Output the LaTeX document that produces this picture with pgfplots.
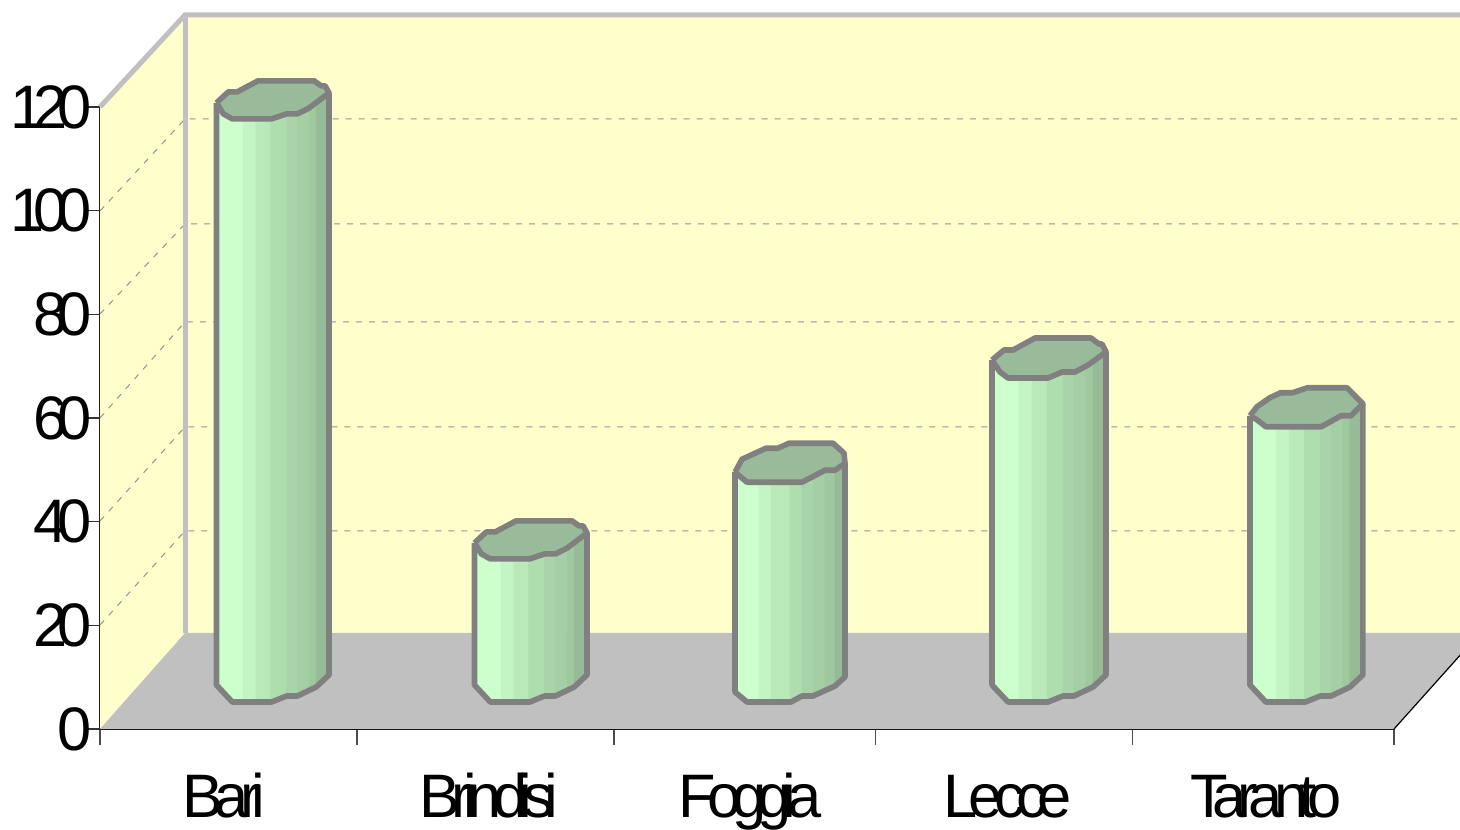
\documentclass[border=0pt]{standalone}
\usepackage{pgfplots}
\usepackage{pgfplotstable}
\usepackage{fontspec}
\pgfplotsset{compat=1.18}
\setmainfont{Liberation Sans}[LetterSpace=-14.5]
\newfontfamily\ynum{Liberation Sans}[LetterSpace=-17]
\definecolor{wall}{HTML}{FFFFCC}
\definecolor{floorc}{HTML}{C0C0C0}
\definecolor{edge}{HTML}{808080}
\definecolor{topc}{HTML}{99BB99}
\definecolor{cz}{HTML}{C3F2C3}
\definecolor{ca}{HTML}{CCFFCC}
\definecolor{cb}{HTML}{C3F4C3}
\definecolor{cc}{HTML}{B9E9B9}
\definecolor{cd}{HTML}{AEDEAE}
\definecolor{ce}{HTML}{A9D4A9}
\definecolor{cf}{HTML}{A4CEA4}
\definecolor{cg}{HTML}{9FC89F}
\definecolor{ch}{HTML}{97BB97}
\pgfplotsset{
  table/px/.style={x expr=(\thisrow{a}-100)/258.8,y expr=(729-\thisrow{b})/5.183},
  table/barxy/.style={x expr=(\curL+\curS*\thisrow{a}-100)/258.8,y expr=(27+\thisrow{b})/5.183+\thisrow{t}*\curV},
  table/segxy/.style={x expr=(\curL+\curS*\thisrow{a}-100)/258.8,y expr=(27+\thisrow{b}-\thisrow{t}*\curT)/5.183+\thisrow{t}*\curV}
}
% outlines of a column, pixels relative to its front-left corner; t=1: moves with the value
\pgfplotstableread{
a b t
0 16 1
12 27 1
21 27 1
42 38 1
99 38 1
106 33 1
110 33 1
114 26 1
94 11 1
82 5 1
71 5 1
56 0 1
16 0 1
7 5 1
0 16 1
}\topface
\pgfplotstableread{
a b t
0 16 1
0 17 0
16 0 0
56 0 0
71 6 0
82 6 0
101 15 0
114 27 0
114 26 1
}\body
\pgfplotstableread{
a b t
0 18 1
12 28 1
21 28 1
43 40 1
99 40 1
107 34 1
110 34 1
114 26 1
96 13 1
83 6 1
70 6 1
56 0 1
16 0 1
8 6 1
0 18 1
}\topLecce
\pgfplotstableread{
a b t
0 18 1
0 17 0
16 0 0
56 0 0
71 6 0
82 6 0
101 15 0
114 27 0
114 26 1
}\bodyLecce
\pgfplotstableread{
a b t
0 10 1
7 23 1
31 34 1
43 34 1
54 39 1
98 39 1
109 29 1
110 19 1
100 12 1
90 12 1
67 0 1
12 0 1
0 10 1
}\topFoggia
\pgfplotstableread{
a b t
0 10 1
0 10 0
12 0 0
56 0 0
67 6 0
78 6 0
100 16 0
110 25 0
110 19 1
}\bodyFoggia
\pgfplotstableread{
a b t
0 11 1
7 20 1
20 29 1
31 34 1
43 34 1
58 39 1
98 39 1
114 23 1
102 11 1
92 11 1
72 0 1
16 0 1
7 7 1
0 11 1
}\topTaranto
\pgfplotstableread{
a b t
0 11 1
0 17 0
16 0 0
56 0 0
71 6 0
82 6 0
101 15 0
114 27 0
114 23 1
}\bodyTaranto
\newcommand\seg[7]{%
  \addplot[fill=#7,draw=#7,line width=.4pt] table[row sep=\\,segxy]{a b t\\ #1 #3 0\\ #2 #4 0\\ #2 #6 1\\ #1 #5 1\\ #1 #3 0\\};}
\newcommand\segsA{%
  \seg{0}{3}{17}{14}{16}{16}{cz}
  \seg{3}{16}{14}{0}{16}{17}{ca}
  \seg{16}{27}{0}{0}{17}{18}{ca}
  \seg{27}{40}{0}{0}{18}{20}{cb}
  \seg{40}{55}{0}{0}{20}{21}{cc}
  \seg{55}{71}{0}{6}{21}{22}{cd}
  \seg{71}{82}{6}{6}{22}{23}{ce}
  \seg{82}{94}{6}{11}{23}{24}{cf}
  \seg{94}{101}{11}{15}{24}{25}{cg}
  \seg{101}{114}{15}{27}{25}{26}{ch}
}
\newcommand\segsB{%
  \seg{0}{3}{10}{7}{10}{10}{cz}
  \seg{3}{12}{7}{0}{10}{11}{ca}
  \seg{12}{24}{0}{0}{11}{12}{ca}
  \seg{24}{36}{0}{0}{12}{13}{cb}
  \seg{36}{55}{0}{0}{13}{14.5}{cc}
  \seg{55}{67}{0}{6}{14.5}{15.5}{cd}
  \seg{67}{78}{6}{6}{15.5}{16.5}{ce}
  \seg{78}{90}{6}{11}{16.5}{17}{cf}
  \seg{90}{100}{11}{16}{17}{18}{cg}
  \seg{100}{110}{16}{25}{18}{19}{ch}
}
% left px, value, width factor, chord drop, top outline, body outline, strips
\newcommand\cyl[7]{%
  \def\curL{#1}\def\curV{#2}\def\curS{#3}\def\curT{#4}%
  #7%
  \addplot[fill=topc,draw=edge,line width=2.8pt,line join=round] table[barxy]{#5};
  \addplot[draw=edge,line width=2.8pt,line join=round] table[barxy]{#6};
}
\newcommand\gl[2]{%
  \addplot[draw=edge!85,line width=.5pt,dash pattern=on 3pt off 3.5pt] table[row sep=\\,px]{a b\\ 100 #1\\ 185 #2\\ 1480 #2\\};}
\begin{document}
\begin{tikzpicture}
\path[use as bounding box] (0,0) rectangle (730pt,414.5pt);
\clip (0,0) rectangle (730pt,414.5pt);
\begin{axis}[
  at={(50pt,50pt)},anchor=south west,
  scale only axis,width=647pt,height=311pt,
  xmin=0,xmax=5,ymin=0,ymax=120,clip=false,
  axis x line*=bottom,axis y line*=left,
  axis line style={-,black,line width=.7pt},
  xtick={0.479,1.503,2.512,3.508,4.505},
  xticklabels={Bari,Brindisi,Foggia,Lecce,Taranto},
  minor xtick={0,0.993,1.986,2.998,3.99,5},
  ytick={0,20,...,120},
  tick align=outside,
  major x tick style={draw=none},
  major y tick style={black!80,line width=.6pt},
  minor x tick style={black!70,line width=.6pt},
  major tick length=6pt,minor tick length=8pt,
  /pgf/number format/assume math mode=true,
  xticklabel style={font=\fontsize{30.7}{36}\selectfont,inner sep=0pt,anchor=base,yshift=-38pt},
  yticklabel style={font=\ynum\fontsize{30.7}{36}\selectfont,inner sep=0pt,xshift=2pt},
]
% left wall, back wall, floor
\addplot[fill=wall,draw=none] table[row sep=\\,px]{a b\\ 100 107\\ 185 15\\ 185 633\\ 100 729\\ 100 107\\};
\addplot[fill=wall,draw=none] table[row sep=\\,px]{a b\\ 185 15\\ 1480 15\\ 1480 633\\ 185 633\\ 185 15\\};
\addplot[fill=floorc,draw=none] table[row sep=\\,px]{a b\\ 100 729\\ 185 633\\ 1480 633\\ 1394 729\\ 100 729\\};
\addplot[draw=black,line width=.6pt] table[row sep=\\,px]{a b\\ 1394 729\\ 1480 633\\};
\gl{625}{531}
\gl{521}{427}
\gl{418}{322}
\gl{314}{224}
\gl{211}{119}
\addplot[draw=floorc,line width=2.5pt,line join=miter] table[row sep=\\,px]{a b\\ 100 107\\ 185 15\\ 1480 15\\};
\addplot[draw=floorc,line width=2.5pt] table[row sep=\\,px]{a b\\ 185 15\\ 185 633\\};
\cyl{216.5}{112.5}{0.987}{0}{\topface}{\body}{\segsA}
\cyl{474.5}{27.6}{0.987}{0}{\topface}{\body}{\segsA}
\cyl{735}{42.4}{1}{0}{\topFoggia}{\bodyFoggia}{\segsB}
\cyl{992}{62.5}{1}{0}{\topLecce}{\bodyLecce}{\segsA}
\cyl{1250}{53.1}{0.99}{5}{\topTaranto}{\bodyTaranto}{\segsA}
\end{axis}
\end{tikzpicture}
\end{document}
